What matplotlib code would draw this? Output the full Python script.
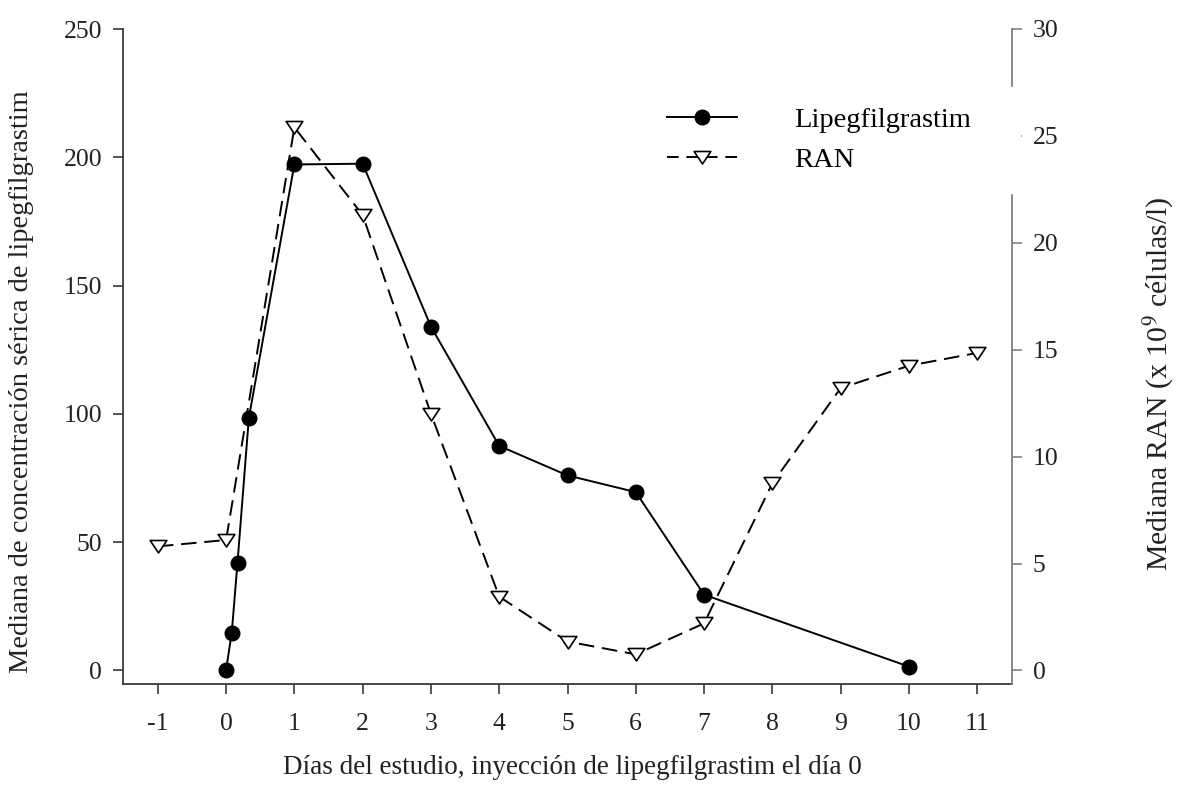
import matplotlib
matplotlib.use("Agg")
import matplotlib.pyplot as plt
from matplotlib.lines import Line2D
from matplotlib.path import Path

plt.rcParams['font.family'] = ['Liberation Serif', 'DejaVu Serif']
plt.rcParams['mathtext.fontset'] = 'stix'

# Data
lipeg_days = [0, 0.083, 0.167, 0.333, 1, 2, 3, 4, 5, 6, 7, 10]
lipeg_conc = [0.3, 14.7, 42, 98.4, 197.2, 197.5, 134, 87.5, 76, 69.5, 29.5, 1.5]

ran_days = [-1, 0, 1, 2, 3, 4, 5, 6, 7, 8, 9, 10, 11]
ran_vals = [5.8, 6.1, 25.4, 21.3, 12.0, 3.45, 1.35, 0.75, 2.2, 8.75, 13.2, 14.25, 14.85]

xticks = [-1, 0, 1, 2, 3, 4, 5, 6, 7, 8, 9, 10, 11]
left_ticks = [0, 50, 100, 150, 200, 250]
right_ticks = [0, 5, 10, 15, 20, 25, 30]

xlabel = "Días del estudio, inyección de lipegfilgrastim el día 0"
ylabel_left = "Mediana de concentración sérica de lipegfilgrastim"
ylabel_right = "Mediana RAN (x 10$^{9}$ células/l)"
labels = ["Lipegfilgrastim", "RAN"]

TFS = 18.5
fig = plt.figure(figsize=(11.84, 7.96), dpi=100)
ax1 = fig.add_axes([123/1184, 1-684/796, (1012-123)/1184, (684-29)/796])
ax2 = ax1.twinx()

tri = Path([(-1, 0.72), (1, 0.72), (0, -0.78), (-1, 0.72)], closed=True)

l1, = ax1.plot(lipeg_days, lipeg_conc, color='black', lw=1.4, marker='o',
               markersize=10.5, markerfacecolor='black', markeredgecolor='black',
               clip_on=False, zorder=3)
l2, = ax2.plot(ran_days, ran_vals, color='black', lw=1.4, marker=tri,
               markersize=12, markerfacecolor='white', markeredgecolor='black',
               markeredgewidth=1.2, dashes=(8, 4), clip_on=False, zorder=3)

ax1.set_xlim(-1.51, 11.51)
ax1.set_ylim(-5.3, 250)
ax2.set_ylim(-5.3 * 30 / 250, 30)

ax1.set_xticks(xticks)
ax1.set_xticklabels([str(t) for t in xticks])
ax1.set_yticks(left_ticks)
ax2.set_yticks(right_ticks)

for s in ['top', 'right']:
    ax1.spines[s].set_visible(False)
for s in ['top', 'left', 'bottom']:
    ax2.spines[s].set_visible(False)
ax1.spines['left'].set_color('#3a3a3a')
ax1.spines['bottom'].set_color('#3a3a3a')
ax1.spines['left'].set_linewidth(1.3)
ax1.spines['bottom'].set_linewidth(1.3)
ax2.spines['right'].set_color('#808080')
ax2.spines['right'].set_linewidth(1.3)

ax1.tick_params(axis='y', direction='out', length=7, width=1.2, color='#3a3a3a',
                labelsize=TFS, pad=8, labelcolor='#222222')
ax1.tick_params(axis='x', direction='out', length=7, width=1.2, color='#3a3a3a',
                labelsize=TFS, pad=14, labelcolor='#222222')
ax2.tick_params(axis='y', direction='out', length=7, width=1.2, color='#808080',
                labelsize=TFS, pad=8, labelcolor='#222222')

ax1.set_xlabel(xlabel, fontsize=19.5, color='#222222')
ax1.xaxis.set_label_coords(0.506, -0.108)
ax1.set_ylabel(ylabel_left, fontsize=20.5, color='#222222')
ax1.yaxis.set_label_coords(-0.100, 0.462)
ax2.set_ylabel(ylabel_right, fontsize=21.5, color='#222222')
ax2.yaxis.set_label_coords(1.146, 0.458)

h1 = Line2D([], [], color='black', lw=1.4, marker='o', markersize=10.5,
            markerfacecolor='black')
h2 = Line2D([], [], color='black', lw=1.4, marker=tri, markersize=12,
            markerfacecolor='white', markeredgewidth=1.2, dashes=(6, 4))
leg = ax2.legend([h1, h2], labels, loc='upper left',
                 bbox_to_anchor=(0.5895, 0.7515, 0.419, 0.16), mode='expand',
                 borderaxespad=0, borderpad=0.7, frameon=True, fancybox=False,
                 edgecolor='white', facecolor='white', framealpha=1.0,
                 fontsize=20.5, handlelength=2.46, handletextpad=2.0,
                 labelspacing=0.5, numpoints=1)
leg.set_zorder(10)

fig.savefig("out.png", dpi=100)
